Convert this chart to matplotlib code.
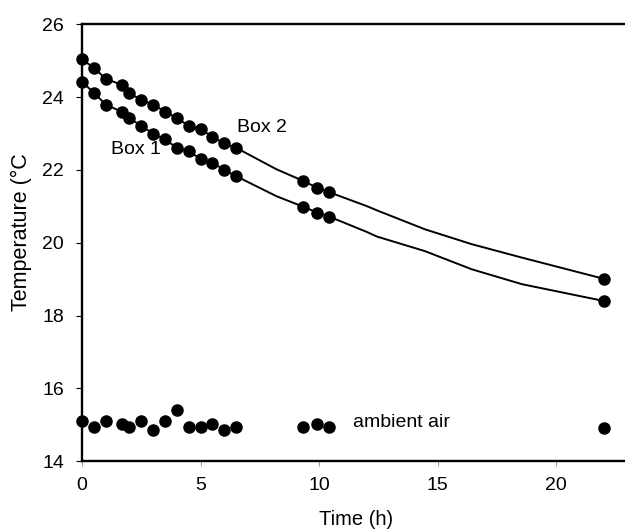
import matplotlib
matplotlib.use("Agg")
import matplotlib.pyplot as plt

plt.rcParams["font.family"] = ["Liberation Sans", "DejaVu Sans"]

# measured points
t_pts = [0, 0.5, 1, 1.67, 2, 2.5, 3, 3.5, 4, 4.5, 5, 5.5, 6, 6.5, 9.33, 9.92, 10.42, 22]
box2 = [25.04, 24.81, 24.51, 24.34, 24.12, 23.92, 23.80, 23.60, 23.43, 23.21, 23.13, 22.91,
        22.73, 22.61, 21.70, 21.51, 21.39, 19.01]
box1 = [24.43, 24.12, 23.80, 23.60, 23.43, 23.21, 23.00, 22.84, 22.61, 22.51, 22.31, 22.20,
        22.00, 21.83, 20.99, 20.83, 20.72, 18.40]
ambient = [15.11, 14.93, 15.11, 15.02, 14.93, 15.11, 14.85, 15.11, 15.40, 14.93, 14.93, 15.02,
           14.85, 14.93, 14.93, 15.02, 14.93, 14.91]

# model curves
t_mod = [0, 0.5, 1, 1.67, 2, 2.5, 3, 3.5, 4, 4.5, 5, 5.5, 6, 6.5, 8.2, 9.33, 9.92, 10.42,
         12.0, 12.44, 14.46, 16.44, 18.56, 22]
box2_mod = [25.04, 24.81, 24.51, 24.34, 24.12, 23.92, 23.80, 23.60, 23.43, 23.21, 23.13, 22.91,
            22.73, 22.61, 22.02, 21.70, 21.51, 21.39, 21.01, 20.89, 20.37, 19.96, 19.59, 19.01]
box1_mod = [24.43, 24.12, 23.80, 23.60, 23.43, 23.21, 23.00, 22.84, 22.61, 22.51, 22.31, 22.20,
            22.00, 21.83, 21.28, 20.99, 20.83, 20.72, 20.30, 20.17, 19.77, 19.27, 18.86, 18.40]

fig = plt.figure(figsize=(6.25, 5.31), dpi=100)
ax = fig.add_axes([0.1312, 0.1318, 0.8688, 0.8221])

ax.plot(t_mod, box2_mod, color="black", lw=1.4, zorder=2)
ax.plot(t_mod, box1_mod, color="black", lw=1.4, zorder=2)
for ys in (box2, box1, ambient):
    ax.plot(t_pts, ys, "o", color="black", ms=8, zorder=3, clip_on=False)

ax.text(6.52, 23.18, "Box 2", fontsize=14, va="center", ha="left")
ax.text(1.21, 22.55, "Box 1", fontsize=14, va="center", ha="left")
ax.text(11.42, 15.06, "ambient air", fontsize=14, va="center", ha="left")

ax.set_xlim(0, 22.9)
ax.set_ylim(14, 26)
ax.set_xticks([0, 5, 10, 15, 20])
ax.set_yticks([14, 16, 18, 20, 22, 24, 26])
ax.spines["right"].set_visible(False)
for s in ("left", "bottom", "top"):
    ax.spines[s].set_linewidth(1.7)
ax.tick_params(axis="x", direction="out", length=3.5, width=0.6, color="#888888",
               labelsize=14, pad=8)
ax.tick_params(axis="y", direction="out", length=4, width=0.8, labelsize=14, pad=9)

ax.set_xlabel("Time (h)", fontsize=14.5)
ax.xaxis.set_label_coords(0.505, -0.113)
ax.set_ylabel("Temperature (°C", fontsize=15.5)
ax.yaxis.set_label_coords(-0.093, 0.525)

fig.savefig("out.png", dpi=100)
